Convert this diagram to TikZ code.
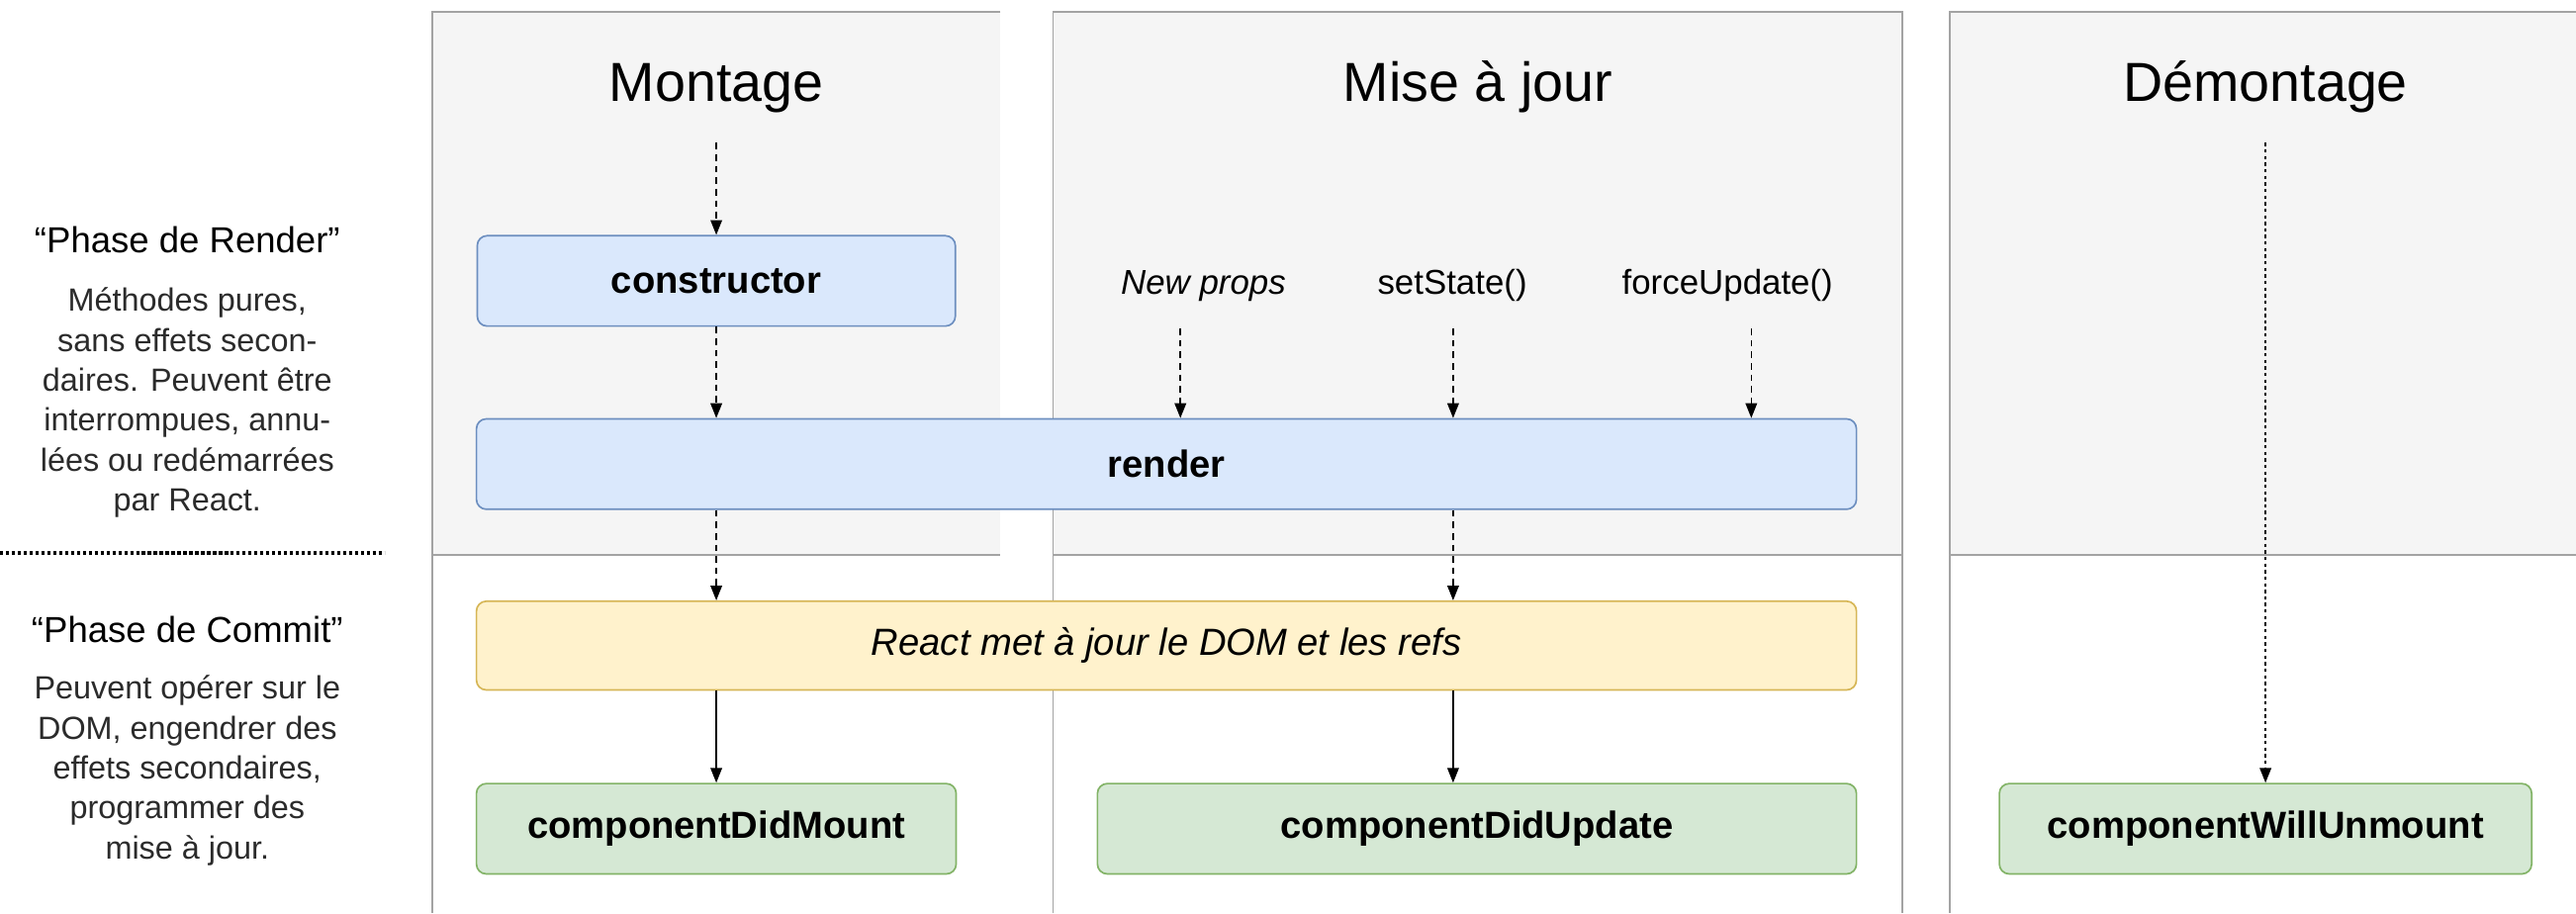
\documentclass[tikz,border=0pt]{standalone}
\usepackage{fontspec}
\setmainfont{Liberation Sans}
\usetikzlibrary{arrows.meta}

\definecolor{lanebg}{HTML}{F5F5F5}
\definecolor{laneline}{HTML}{A3A3A3}
\definecolor{bluefill}{HTML}{DAE8FC}
\definecolor{blueline}{HTML}{6C8EBF}
\definecolor{yellowfill}{HTML}{FFF2CC}
\definecolor{yellowline}{HTML}{D6B656}
\definecolor{greenfill}{HTML}{D5E8D4}
\definecolor{greenline}{HTML}{82B366}
\definecolor{notetext}{HTML}{2B2B2B}

\newcommand{\fsz}[2]{\fontsize{#1}{#2}\selectfont}

\begin{document}
\begin{tikzpicture}[x=1pt, y=-1pt,
	lane/.style={draw=laneline, line width=1.1pt},
	method/.style={rounded corners=6pt, line width=1pt, minimum height=55pt, inner sep=0pt},
	bluebox/.style={method, fill=bluefill, draw=blueline, font=\fsz{23}{28}\bfseries},
	yellowbox/.style={method, fill=yellowfill, draw=yellowline, font=\fsz{23}{28}\itshape},
	greenbox/.style={method, fill=greenfill, draw=greenline, font=\fsz{23}{28}\bfseries},
	flow/.style={-{Triangle[length=9pt,width=7pt]}, line width=0.9pt},
	maybe/.style={flow, dash pattern=on 4pt off 3pt},
	dotflow/.style={flow, dash pattern=on 2pt off 2pt},
	lanetitle/.style={font=\fsz{33.5}{40}, anchor=base},
	trigger/.style={font=\fsz{21}{25}, anchor=base},
	phase/.style={font=\fsz{22}{26}, anchor=base},
	phasenote/.style={font=\fsz{19.5}{24.3}, text=notetext, align=center, anchor=base, inner sep=0pt},
	]
	\useasboundingbox (0,0) rectangle (1568,556);
	\fill[white] (0,0) rectangle (1568,556);

	\fill[lanebg] (263,7) rectangle (609,338);
	\fill[lanebg] (641,7) rectangle (1158,338);
	\fill[lanebg] (1187,7) rectangle (1568,338);
	\draw[lane] (609,7) -- (263,7) -- (263,556);
	\draw[lane] (263,338) -- (609,338);
	\draw[lane] (641,556) -- (641,7) -- (1158,7) -- (1158,556);
	\draw[lane] (641,338) -- (1158,338);
	\draw[lane] (1568,7) -- (1187,7) -- (1187,556);
	\draw[lane] (1187,338) -- (1568,338);
	\draw[line width=2pt, dash pattern=on 2pt off 1.6pt] (0,336.6) -- (234,336.6);

	\node[lanetitle] (mount) at (436,62) {Montage};
	\node[lanetitle] (update) at (899.5,62) {Mise à jour};
	\node[lanetitle] (unmount) at (1379,62) {Démontage};

	\node[phase] (renderphase) at (114,153.6) {“Phase de Render”};
	\node[phasenote] (rendernote) at (114,311) {Méthodes pures,\\ sans effets secon-\\ daires. Peuvent être\\ interrompues, annu-\\ lées ou redémarrées\\ par React.};
	\node[phase] (commitphase) at (114,391) {“Phase de Commit”};
	\node[phasenote] (commitnote) at (114,522.8) {Peuvent opérer sur le\\ DOM, engendrer des\\ effets secondaires,\\ programmer des\\ mise à jour.};

	\node[trigger] (newprops) at (732.5,179) {\itshape New props};
	\node[trigger] (setstate) at (884,179) {setState()};
	\node[trigger] (forceupd) at (1051.5,179) {forceUpdate()};

	\node[bluebox, minimum width=291pt] (ctor) at (436,171) {constructor};
	\node[bluebox, minimum width=840pt] (render) at (710,282.5) {render};
	\node[yellowbox, minimum width=840pt, minimum height=54pt] (commit) at (710,393) {React met à jour le DOM et les refs};
	\node[greenbox, minimum width=292pt] (didmount) at (436,504.5) {componentDidMount};
	\node[greenbox, minimum width=462pt] (didupdate) at (899,504.5) {componentDidUpdate};
	\node[greenbox, minimum width=324pt] (willunmount) at (1379,504.5) {componentWillUnmount};

	\coordinate (mountin) at (436,87);
	\coordinate (unmountin) at (1379,87);
	\coordinate (propsin) at (718.5,200);
	\coordinate (statein) at (884.5,200);
	\coordinate (forcein) at (1066,200);

	\draw[maybe] (mountin) to (ctor.north);
	\draw[maybe] (ctor.south) to (ctor.south |- render.north);
	\draw[maybe] (propsin) to (propsin |- render.north);
	\draw[maybe] (statein) to (statein |- render.north);
	\draw[maybe] (forcein) to (forcein |- render.north);
	\draw[maybe] (ctor.south |- render.south) to (ctor.south |- commit.north);
	\draw[maybe] (statein |- render.south) to (statein |- commit.north);
	\draw[flow] (didmount.north |- commit.south) to (didmount.north);
	\draw[flow] (statein |- commit.south) to (statein |- didupdate.north);
	\draw[dotflow] (unmountin) to (willunmount.north);
\end{tikzpicture}
\end{document}
